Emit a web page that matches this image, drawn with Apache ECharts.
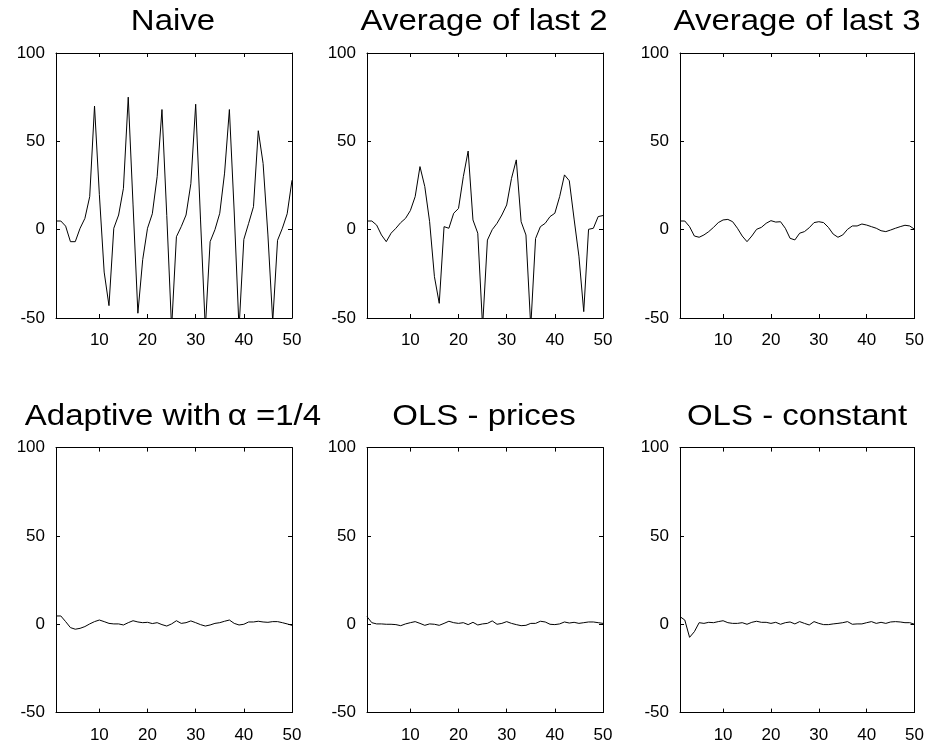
<!DOCTYPE html>
<html>
<head>
<meta charset="utf-8">
<title>Forecast errors</title>
<script src="https://cdn.jsdelivr.net/npm/echarts@6/dist/echarts.min.js"></script>
<style>
  html, body { margin: 0; padding: 0; background: #fff; }
  #chart { width: 927px; height: 746px; }
</style>
</head>
<body>
<div id="chart"></div>
<script>
// Period index (x axis)
const periods = [1,2,3,4,5,6,7,8,9,10,11,12,13,14,15,16,17,18,19,20,21,22,23,24,25,
  26,27,28,29,30,31,32,33,34,35,36,37,38,39,40,41,42,43,44,45,46,47,48,49,50];

// Tick values
const xTicks = [10, 20, 30, 40, 50];
const yMin = -50, yMax = 100, yStep = 50;

// Panel titles
const titles = ['Naive', 'Average of last 2', 'Average of last 3',
  'Adaptive with\u2009\u03b1 =1/4', 'OLS - prices', 'OLS - constant'];

// Forecast error series, one per expectation scheme
const naive = [4.9,4.9,2,-6.8,-6.8,0.8,6.4,18.7,70,20,-24,-43,0.8,8.3,23.4,75,14,-47.3,-17,0.8,
  9,30,68,8,-56,-4,1.7,8.3,26,71,6,-56,-6.8,0,9.3,32,68,10,-56,-5.5,
  3.6,13,56,37.5,-3,-52,-6,0.8,9,28];
const avgLast2 = [4.9,4.9,2.6,-3,-6.8,-2,0.8,4,6.4,10.8,18.7,35.7,24.4,4.5,-26.6,-41.7,1.7,0.8,9.3,12,
  30,44.5,5.5,-2,-55,-5.9,0,3.6,8.3,14,29,39.5,4.5,-3,-55,-5,1.7,3.6,7.4,9.3,
  18.7,31,27.7,6,-15,-46.4,0.2,0.8,7.4,8];
const avgLast3 = [4.9,4.9,1.7,-3.6,-4.3,-3,-1.1,1.3,4,5.5,5.8,4.5,0.8,-3.6,-6.8,-3.6,0.2,1.3,3.6,5.1,
  4.3,4.5,0.8,-4.9,-5.8,-2,-1.1,1.1,4,4.5,4,1.3,-2.5,-4.3,-3,0.2,2.1,2.1,3.2,2.6,
  1.7,0.8,-0.6,-1.1,-0.2,0.8,1.7,2.5,2.1,0.2];
const adaptive = [4.7,4.7,1.5,-1.9,-2.8,-2.3,-1.3,0.2,1.5,2.4,1.5,0.5,0.2,0.2,-0.4,0.9,2,1.3,0.9,1.1,
  0.4,0.9,-0.2,-1,0.2,2,0.5,0.9,1.9,0.9,-0.2,-1,-0.4,0.5,0.9,1.7,2.4,0.5,-0.4,0,
  1.3,1.3,1.7,1.3,1.1,1.5,1.5,0.9,0.2,-0.6];
const olsPrices = [4.3,0.9,0.2,0.2,0,0,-0.2,-0.8,0.2,0.9,1.5,0.5,-0.6,0.2,0,-0.6,0.5,1.7,0.9,0.5,
  0.9,-0.2,1.1,-0.4,0.2,0.5,1.9,0,0.5,1.5,0.5,-0.2,-0.8,-0.6,0.5,0.5,1.7,1.3,0,-0.2,
  0.2,1.3,0.7,1.1,0.5,0.9,1.3,1.3,0.9,0.5];
const olsConstant = [4.3,2.4,-7.4,-4.2,0.9,0.5,1.1,0.9,1.5,2,0.9,0.5,0.5,0.9,0,1.1,1.7,1.1,1.1,0.5,
  1.1,0,0.9,1.3,0.2,1.5,0.5,-0.4,1.5,0.5,-0.2,-0.2,0.2,0.5,0.9,1.5,0,0.2,0.2,0.9,
  1.5,0.5,1.1,0.5,1.3,1.5,1.3,0.9,0.9,0];

const panels = [naive, avgLast2, avgLast3, adaptive, olsPrices, olsConstant];

// Layout of the 2x3 grid of axes boxes
const FONT = '"Liberation Sans", Arial, Helvetica, sans-serif';
const colLeft = [56, 367, 680];
const rowTop = [53, 447.6];
const boxW = 236, boxH = 265;

const grids = [], xAxes = [], yAxes = [], series = [], graphics = [];

panels.forEach((vals, i) => {
  const col = i % 3, row = Math.floor(i / 3);
  const left = colLeft[col], top = rowTop[row];
  grids.push({ left: left, top: top, width: boxW, height: boxH, containLabel: false });

  const tick = { show: true, inside: true, length: 4, lineStyle: { color: '#000', width: 1 } };
  const line = { show: true, onZero: false, lineStyle: { color: '#000', width: 1 } };

  // bottom x axis with labels, top x axis as frame with ticks only
  xAxes.push({
    type: 'value', gridIndex: i, position: 'bottom', min: 1, max: 50,
    axisLine: line,
    axisTick: Object.assign({ customValues: xTicks }, tick),
    axisLabel: { customValues: xTicks, color: '#000', fontSize: 17, fontFamily: FONT, margin: 14 },
    splitLine: { show: false }
  });
  xAxes.push({
    type: 'value', gridIndex: i, position: 'top', min: 1, max: 50,
    axisLine: line,
    axisTick: Object.assign({ customValues: xTicks }, tick),
    axisLabel: { show: false },
    splitLine: { show: false }
  });
  // left y axis with labels, right y axis as frame with ticks only
  yAxes.push({
    type: 'value', gridIndex: i, position: 'left', min: yMin, max: yMax, interval: yStep,
    axisLine: line, axisTick: tick,
    axisLabel: { color: '#000', fontSize: 17, fontFamily: FONT, margin: 11 },
    splitLine: { show: false }
  });
  yAxes.push({
    type: 'value', gridIndex: i, position: 'right', min: yMin, max: yMax, interval: yStep,
    axisLine: line, axisTick: tick,
    axisLabel: { show: false },
    splitLine: { show: false }
  });

  series.push({
    type: 'line', xAxisIndex: 2 * i, yAxisIndex: 2 * i,
    data: periods.map((p, k) => [p, vals[k]]),
    symbol: 'none', clip: true, animation: false,
    lineStyle: { color: '#000', width: 1 }
  });

  graphics.push({
    type: 'text', x: left + boxW / 2 - 1, y: top - 31, scaleX: 1.1,
    style: { text: titles[i], fill: '#000', font: '30px ' + FONT, textAlign: 'center', textVerticalAlign: 'middle' }
  });
});

const chart = echarts.init(document.getElementById('chart'), null, { renderer: 'canvas' });
chart.setOption({
  animation: false,
  backgroundColor: '#fff',
  grid: grids,
  xAxis: xAxes,
  yAxis: yAxes,
  series: series,
  graphic: graphics
});
</script>
</body>
</html>
